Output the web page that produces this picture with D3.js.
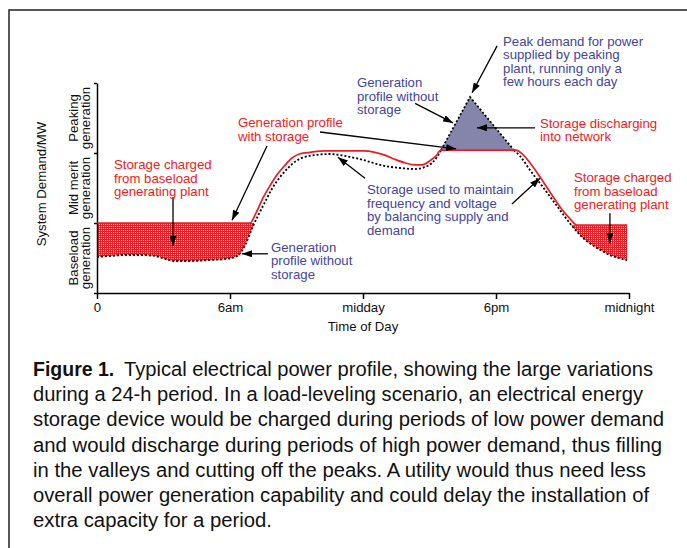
<!DOCTYPE html>
<html><head><meta charset="utf-8">
<script src="https://cdn.jsdelivr.net/npm/d3@7"></script>
<style>
body{margin:0;background:#fff}
svg{display:block}
text{font-family:"Liberation Sans",Arial,Helvetica,sans-serif}
</style>
</head><body>
<svg id="c" width="687" height="548"></svg>
<script>
// ---------- data ----------
const hourTicks = [0, 6, 12, 18, 24];
const hourLabels = ["0", "6am", "midday", "6pm", "midnight"];
const bandTicks = [0, 1, 2, 3];
const bandNames = [["Baseload", "generation"], ["Mid merit", "generation"], ["Peaking", "generation"]];

// generation profile with storage [hour, demand level]
const withStorage = [
  [0, 1.0], [6.9, 1.0], [7.17, 1.14], [7.49, 1.36], [7.8, 1.53], [8.12, 1.69], [8.44, 1.81],
  [8.8, 1.93], [9.16, 1.99], [9.61, 2.01], [10.29, 2.03], [12.0, 2.03], [12.54, 2.01],
  [12.99, 1.97], [13.44, 1.91], [13.89, 1.86], [14.35, 1.83], [14.66, 1.83], [15.02, 1.89],
  [15.29, 1.96], [15.52, 2.04], [18.9, 2.04], [19.17, 1.99], [19.53, 1.86], [19.98, 1.66],
  [20.44, 1.44], [20.89, 1.23], [21.34, 1.06], [21.65, 0.97], [23.91, 0.97]
];
// generation profile without storage [hour, demand level]
const withoutStorage = [
  [0, 0.514], [0.59, 0.529], [1.26, 0.543], [1.94, 0.543], [2.62, 0.529], [3.07, 0.486],
  [3.52, 0.457], [4.2, 0.457], [5.1, 0.471], [5.77, 0.486], [6.23, 0.514], [6.5, 0.586],
  [6.68, 0.686], [6.86, 0.814], [7.04, 0.957], [7.26, 1.1], [7.58, 1.3], [7.89, 1.486],
  [8.26, 1.657], [8.62, 1.786], [8.98, 1.886], [9.38, 1.943], [9.83, 1.971], [10.51, 1.986],
  [10.96, 1.971], [11.41, 1.943], [11.86, 1.914], [12.32, 1.871], [12.99, 1.814], [13.67, 1.786],
  [14.35, 1.771], [14.8, 1.8], [15.11, 1.857], [15.34, 1.943], [15.52, 2.04],
  [16.83, 2.8],
  [18.81, 2.04], [19.08, 1.957], [19.53, 1.757], [19.98, 1.571], [20.75, 1.243], [21.47, 0.943],
  [21.93, 0.786], [22.56, 0.643], [23.14, 0.543], [23.91, 0.471]
];
const morningChargeLevel = 1.0;
const eveningChargeLevel = 0.97;
const peakStartHour = 15.52;
const peakEndHour = 18.81;
const plateauLevel = 2.04;

// annotations: text lines, anchor [hour, level], colour key; arrows [from, to]
const annotations = [
  {lines: ["Storage charged", "from baseload", "generating plant"], at: [0.77, 1.77], c: "red"},
  {lines: ["Generation profile", "with storage"], at: [6.36, 2.37], c: "red"},
  {lines: ["Generation", "profile without", "storage"], at: [11.73, 2.94], c: "blue"},
  {lines: ["Peak demand for power", "supplied by peaking", "plant, running only a", "few hours each day"], at: [18.32, 3.53], c: "blue"},
  {lines: ["Storage discharging", "into network"], at: [19.98, 2.36], c: "red"},
  {lines: ["Storage used to maintain", "frequency and voltage", "by balancing supply and", "demand"], at: [12.18, 1.41], c: "blue"},
  {lines: ["Generation", "profile without", "storage"], at: [7.85, 0.59], c: "blue"},
  {lines: ["Storage charged", "from baseload", "generating plant"], at: [21.52, 1.58], c: "red"}
];
const arrows = [
  [[3.43, 1.37], [3.43, 0.67]],
  [[7.67, 2.10], [6.09, 1.04]],
  [[10.06, 2.30], [16.20, 2.06]],
  [[14.35, 2.71], [16.06, 2.43]],
  [[18.05, 3.53], [16.92, 2.86]],
  [[19.76, 2.36], [17.14, 2.36]],
  [[12.09, 1.64], [10.87, 1.94]],
  [[18.72, 1.27], [19.98, 1.64]],
  [[7.71, 0.56], [6.54, 0.56]],
  [[23.14, 1.14], [23.14, 0.71]]
];
const captionBold = "Figure 1.";
const captionLines = [
  "Typical electrical power profile, showing the large variations",
  "during a 24-h period. In a load-leveling scenario, an electrical energy",
  "storage device would be charged during periods of low power demand",
  "and would discharge during periods of high power demand, thus filling",
  "in the valleys and cutting off the peaks. A utility would thus need less",
  "overall power generation capability and could delay the installation of",
  "extra capacity for a period."
];

// ---------- style ----------
const RED = "#ed1c24", BLUE = "#45459b", PEAK = "#8585ab";
const colours = {red: RED, blue: BLUE};

const svg = d3.select("#c");
const x = d3.scaleLinear().domain([0, 24]).range([97, 629]);
const y = d3.scaleLinear().domain([0, 3]).range([293, 83]);

// frame
svg.append("path").attr("d", "M9,548 V10 H687").attr("fill", "none").attr("stroke", "#222").attr("stroke-width", 1.5);

const defs = svg.append("defs");
const pat = defs.append("pattern").attr("id", "dots").attr("width", 2).attr("height", 2).attr("patternUnits", "userSpaceOnUse");
pat.append("rect").attr("width", 2).attr("height", 2).attr("fill", RED);
pat.append("rect").attr("x", 1).attr("y", 0).attr("width", 1).attr("height", 1).attr("fill", "#fff").attr("opacity", 0.85);

defs.append("marker").attr("id", "ah").attr("viewBox", "0 0 10 10").attr("refX", 10).attr("refY", 5)
  .attr("markerWidth", 10).attr("markerHeight", 7).attr("markerUnits", "userSpaceOnUse")
  .attr("orient", "auto").attr("preserveAspectRatio", "none")
  .append("path").attr("d", "M0,0 L10,5 L0,10 Z").attr("fill", "#000");

const pre = withoutStorage.filter(d => d[0] <= peakStartHour);
const peak = withoutStorage.filter(d => d[0] >= peakStartHour && d[0] <= peakEndHour);
const post = withoutStorage.filter(d => d[0] >= peakEndHour);

const aboveArea = d3.area().x(d => x(d[0])).y0(d => y(d[1])).y1(y(3)).curve(d3.curveMonotoneX);
defs.append("clipPath").attr("id", "clipPre").append("path").attr("d", aboveArea(pre));
defs.append("clipPath").attr("id", "clipPost").append("path").attr("d", aboveArea(post));

// charging fills
svg.append("rect").attr("x", x(0)).attr("width", x(12) - x(0))
  .attr("y", y(morningChargeLevel)).attr("height", y(0) - y(morningChargeLevel))
  .attr("fill", "url(#dots)").attr("clip-path", "url(#clipPre)");
svg.append("rect").attr("x", x(12)).attr("width", x(24) - x(12))
  .attr("y", y(eveningChargeLevel)).attr("height", y(0) - y(eveningChargeLevel))
  .attr("fill", "url(#dots)").attr("clip-path", "url(#clipPost)");

// peak triangle
svg.append("path").attr("d", d3.area().x(d => x(d[0])).y0(y(plateauLevel)).y1(d => y(d[1]))(peak))
  .attr("fill", PEAK);

// axes
const xAxis = d3.axisBottom(x).tickValues(hourTicks).tickFormat((d, i) => hourLabels[i])
  .tickSize(6).tickSizeOuter(0).tickPadding(4);
const gx = svg.append("g").attr("transform", `translate(0,${y(0)})`).call(xAxis);
const yAxis = d3.axisLeft(y).tickValues(bandTicks).tickFormat("").tickSize(3).tickSizeOuter(0);
const gy = svg.append("g").attr("transform", `translate(${x(0)},0)`).call(yAxis);
[gx, gy].forEach(g => {
  g.selectAll("path,line").attr("stroke", "#000").attr("stroke-width", 1.5);
  g.selectAll("text").attr("font-size", 13.2).attr("fill", "#111")
    .style("font-family", '"Liberation Sans",Arial,sans-serif');
});

svg.append("text").attr("x", x(12)).attr("y", 331).attr("text-anchor", "middle")
  .attr("font-size", 13.2).attr("fill", "#111").text("Time of Day");
svg.append("text").attr("transform", `translate(46,${(y(0) + y(3)) / 2 - 4}) rotate(-90)`)
  .attr("text-anchor", "middle").attr("font-size", 13.2).attr("fill", "#111").text("System Demand/MW");
bandNames.forEach((nm, i) => {
  nm.forEach((t, j) => {
    svg.append("text").attr("transform", `translate(${78 + j * 12},${y(i + 0.5)}) rotate(-90)`)
      .attr("text-anchor", "middle").attr("font-size", 13.2).attr("fill", "#111").text(t);
  });
});

// curves
const lineM = d3.line().x(d => x(d[0])).y(d => y(d[1])).curve(d3.curveMonotoneX);
const lineL = d3.line().x(d => x(d[0])).y(d => y(d[1]));
[[pre, lineM], [peak, lineL], [post, lineM]].forEach(([data, gen]) => {
  svg.append("path").attr("d", gen(data)).attr("fill", "none").attr("stroke", "#000")
    .attr("stroke-width", 1.8).attr("stroke-dasharray", "2,2");
});
svg.append("path").attr("d", lineM(withStorage)).attr("fill", "none").attr("stroke", RED).attr("stroke-width", 1.7);

// arrows
arrows.forEach(([a, b]) => {
  svg.append("line").attr("x1", x(a[0])).attr("y1", y(a[1])).attr("x2", x(b[0])).attr("y2", y(b[1]))
    .attr("stroke", "#000").attr("stroke-width", 1.3).attr("marker-end", "url(#ah)");
});

// annotation text
annotations.forEach(an => {
  const t = svg.append("text").attr("font-size", 13.2).attr("fill", colours[an.c]);
  an.lines.forEach((ln, i) => {
    t.append("tspan").attr("x", x(an.at[0])).attr("y", y(an.at[1]) + i * 13.5).text(ln);
  });
});

// caption
const capTop = 376, capStep = 25.2, capX = 33;
const capRight = [653, 643, 664, 662, 646, 649, 272];
svg.append("text").attr("x", capX).attr("y", capTop).attr("font-size", 19.5).attr("font-weight", "bold")
  .attr("fill", "#111").text(captionBold);
captionLines.forEach((ln, i) => {
  const sx = i === 0 ? 124 : capX;
  svg.append("text").attr("x", sx).attr("y", capTop + i * capStep).attr("font-size", 19.5)
    .attr("fill", "#111").attr("textLength", capRight[i] - sx).attr("lengthAdjust", "spacingAndGlyphs")
    .text(ln);
});
</script>
</body></html>
